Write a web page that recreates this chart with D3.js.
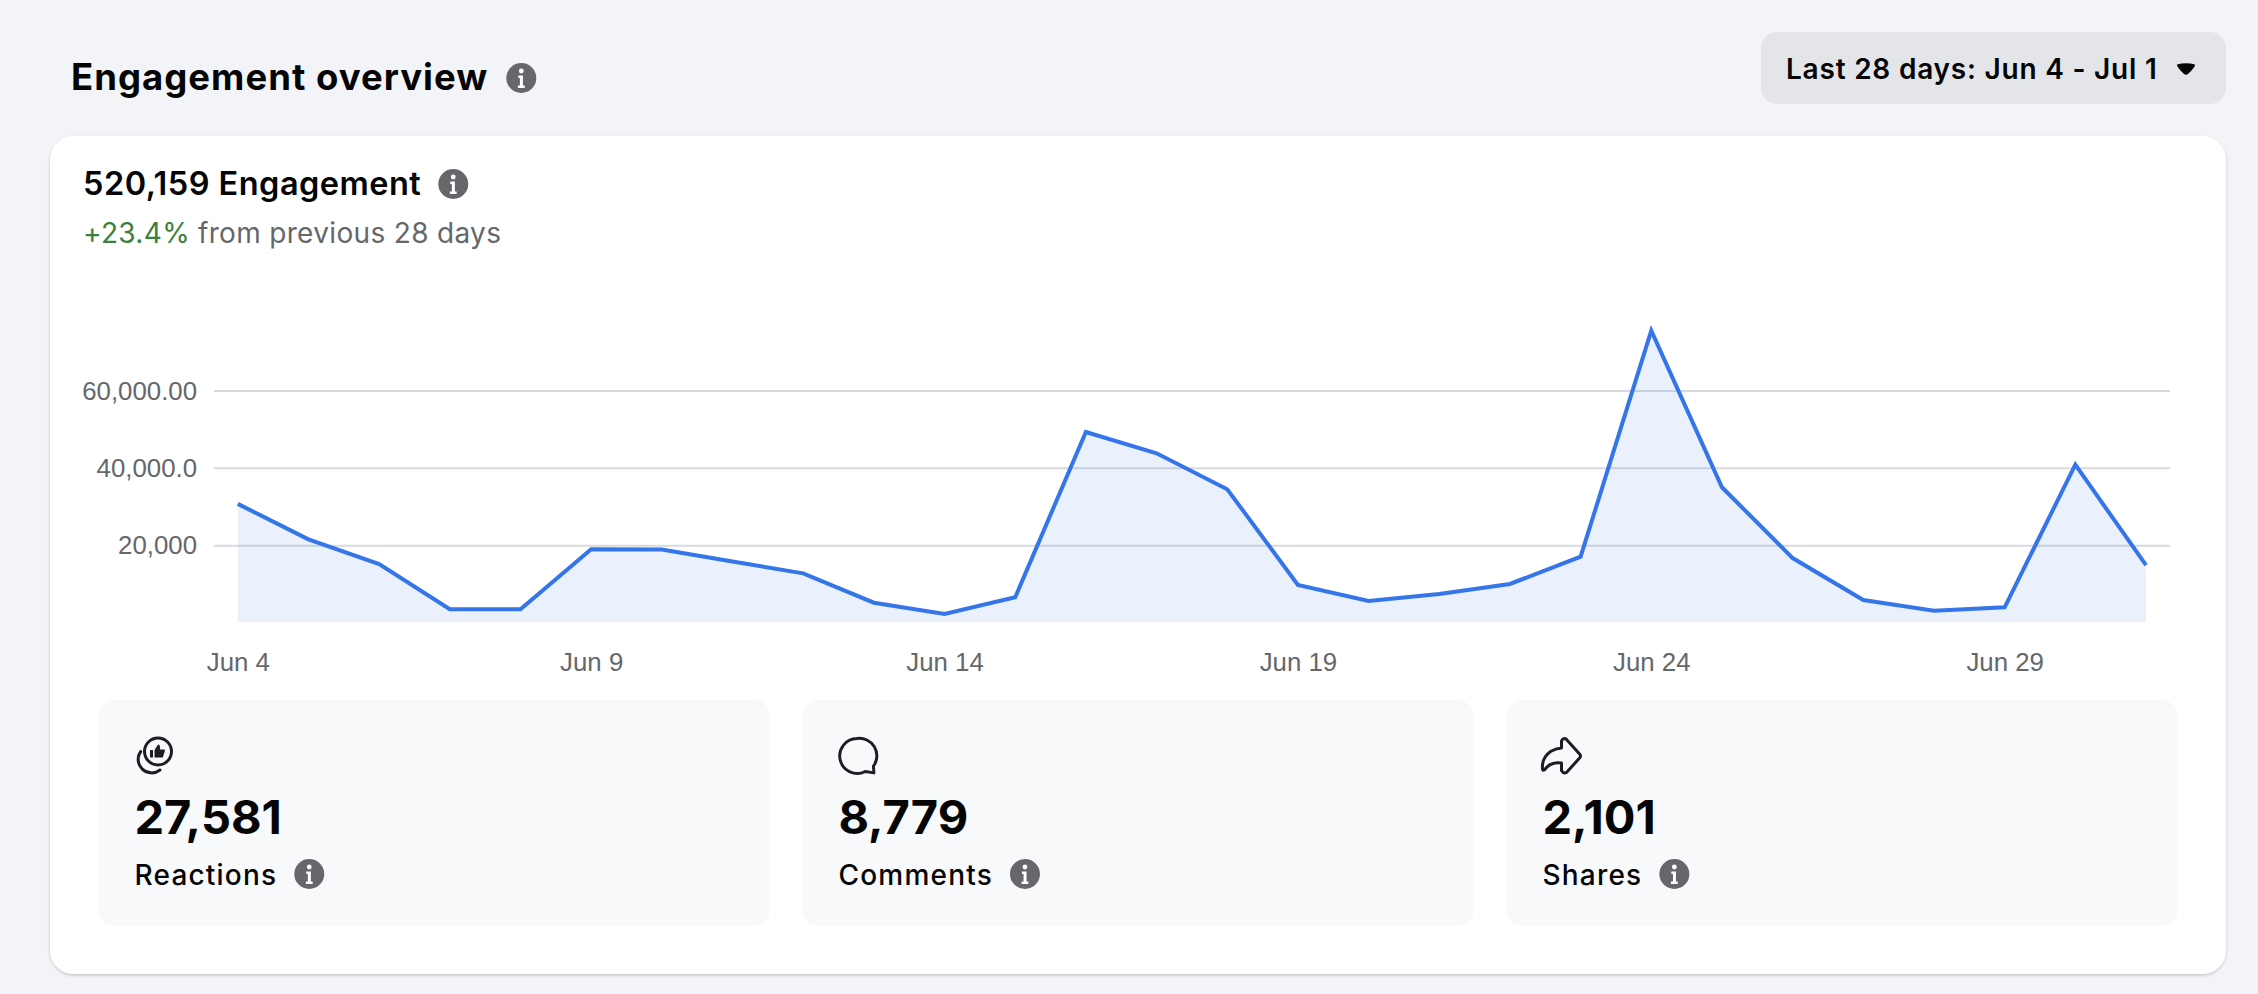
<!DOCTYPE html>
<html>
<head>
<meta charset="utf-8">
<title>Engagement overview</title>
<script src="https://cdn.jsdelivr.net/npm/d3@7"></script>
<style>
  html, body { margin: 0; padding: 0; background: #f3f4f8; }
  svg { display: block; font-family: Inter, "Noto Sans", sans-serif; }
  .axisText text { font-family: "Liberation Sans", Arial, sans-serif; font-size: 25.8px; fill: #65676b; }
</style>
</head>
<body>
<div id="chart"></div>
<script>
var svgWidth = 2258;
var svgHeight = 994;

// Data
var days = ["Jun 4", "Jun 5", "Jun 6", "Jun 7", "Jun 8", "Jun 9", "Jun 10", "Jun 11", "Jun 12", "Jun 13",
  "Jun 14", "Jun 15", "Jun 16", "Jun 17", "Jun 18", "Jun 19", "Jun 20", "Jun 21", "Jun 22", "Jun 23",
  "Jun 24", "Jun 25", "Jun 26", "Jun 27", "Jun 28", "Jun 29", "Jun 30", "Jul 1"];
var engagement = [30800, 21650, 15250, 3550, 3550, 19050, 19000, 15900, 12850, 5250,
  2350, 6650, 49400, 43900, 34600, 9850, 5700, 7500, 10100, 17150,
  75600, 35100, 16800, 5950, 3200, 4050, 40950, 14950];
var xTickLabels = ["Jun 4", "Jun 9", "Jun 14", "Jun 19", "Jun 24", "Jun 29"];
var yTickValues = [20000, 40000, 60000];
var yTickLabels = ["20,000", "40,000.0", "60,000.00"];
var statNames = ["Reactions", "Comments", "Shares"];
var statValues = ["27,581", "8,779", "2,101"];

var svg = d3.select("#chart")
  .append("svg")
  .attr("width", svgWidth)
  .attr("height", svgHeight);

var defs = svg.append("defs");
var shadow = defs.append("filter").attr("id", "cardShadow")
  .attr("x", "-2%").attr("y", "-2%").attr("width", "104%").attr("height", "104%");
shadow.append("feDropShadow")
  .attr("dx", 0).attr("dy", 1.5).attr("stdDeviation", 1.5)
  .attr("flood-color", "#000").attr("flood-opacity", 0.2);

// grey circle with the white i
function infoIcon(x, y) {
  var g = svg.append("g").attr("transform", `translate(${x}, ${y})`);
  g.append("circle").attr("r", 15).attr("fill", "#65676b");
  g.append("circle").attr("cy", -7).attr("r", 2.4).attr("fill", "#fff");
  g.append("path").attr("d", "M-3 -2.5H1.6V7.5H3.4V10H-3.4V7.5H-1.4V0H-3Z").attr("fill", "#fff");
}

// text, with the info icon following it
function labelWithInfo(x, y, str, size, weight, spacing, gap) {
  var t = svg.append("text")
    .attr("x", x)
    .attr("y", y)
    .attr("font-size", size)
    .attr("font-weight", weight)
    .attr("letter-spacing", spacing)
    .attr("fill", "#050505")
    .text(str);
  infoIcon(x + t.node().getComputedTextLength() + gap, y - 11);
}

// Page header
var titleText = svg.append("text")
  .attr("x", 71).attr("y", 90)
  .attr("font-size", 36.5).attr("font-weight", 700).attr("letter-spacing", 1.02)
  .attr("fill", "#050505")
  .text("Engagement overview");
infoIcon(71 + titleText.node().getComputedTextLength() + 33, 78);

// Date button
svg.append("rect")
  .attr("x", 1761).attr("y", 32)
  .attr("width", 465).attr("height", 72)
  .attr("rx", 16)
  .attr("fill", "#e4e5e9");
svg.append("text")
  .attr("x", 1786).attr("y", 79)
  .attr("font-size", 28).attr("font-weight", 600).attr("letter-spacing", 0.78)
  .attr("fill", "#050505")
  .text("Last 28 days: Jun 4 - Jul 1");
svg.append("path")
  .attr("d", "M2177 64.500Q2186 62 2195 64.500Q2195.500 67 2188 74Q2186 75.500 2184 74Q2176.500 67 2177 64.500Z")
  .attr("fill", "#050505");

// Main card
svg.append("rect")
  .attr("x", 50).attr("y", 136)
  .attr("width", 2176).attr("height", 838)
  .attr("rx", 24)
  .attr("fill", "#fff")
  .attr("filter", "url(#cardShadow)");

labelWithInfo(83, 195, "520,159 Engagement", 32.5, 600, 0.47, 32);

var changeLine = svg.append("text")
  .attr("x", 83).attr("y", 243)
  .attr("font-size", 28).attr("letter-spacing", 0.33);
changeLine.append("tspan").attr("fill", "#3c8039").text("+23.4%");
changeLine.append("tspan").attr("fill", "#65676b").attr("dx", 8).text("from previous 28 days");

// Scales
var xScale = d3.scalePoint()
  .domain(days)
  .range([237.8, 2146]);

var yScale = d3.scaleLinear()
  .domain([0, 60000])
  .range([623, 391]);

var areaBottom = 622;

// Axes
var bottomAxis = d3.axisBottom(xScale)
  .tickValues(xTickLabels)
  .tickSize(0)
  .tickPadding(31);

var leftAxis = d3.axisLeft(yScale)
  .tickValues(yTickValues)
  .tickFormat((d, i) => yTickLabels[i])
  .tickSize(0)
  .tickPadding(17);

var xAxisGroup = svg.append("g")
  .attr("class", "axisText")
  .attr("transform", `translate(0, ${areaBottom})`)
  .call(bottomAxis);
xAxisGroup.select(".domain").remove();

var yAxisGroup = svg.append("g")
  .attr("class", "axisText")
  .attr("transform", "translate(214, 0)")
  .call(leftAxis);
yAxisGroup.select(".domain").remove();

// Gridlines
svg.append("g")
  .selectAll("line")
  .data(yTickValues)
  .enter()
  .append("line")
  .attr("x1", 214)
  .attr("x2", 2170)
  .attr("y1", d => yScale(d))
  .attr("y2", d => yScale(d))
  .attr("stroke", "#d8dade")
  .attr("stroke-width", 2);

// Area and line
var area = d3.area()
  .x((d, i) => xScale(days[i]))
  .y0(areaBottom)
  .y1(d => yScale(d));

var line = d3.line()
  .x((d, i) => xScale(days[i]))
  .y(d => yScale(d));

svg.append("path")
  .datum(engagement)
  .attr("d", area)
  .attr("fill", "#3578f0")
  .attr("fill-opacity", 0.1);

svg.append("path")
  .datum(engagement)
  .attr("d", line)
  .attr("fill", "none")
  .attr("stroke", "#3575ea")
  .attr("stroke-width", 4)
  .attr("stroke-linejoin", "miter");

// Stat cards
var statScale = d3.scalePoint()
  .domain(statNames)
  .range([98, 1506]);

statNames.forEach(function(name, i) {
  var left = statScale(name);
  svg.append("rect")
    .attr("x", left).attr("y", 700)
    .attr("width", 672).attr("height", 225.500)
    .attr("rx", 16)
    .attr("fill", "#f8f9fb");

  svg.append("text")
    .attr("x", left + 36.500).attr("y", 834)
    .attr("font-size", 47).attr("font-weight", 700)
    .attr("fill", "#050505")
    .text(statValues[i]);

  labelWithInfo(left + 36.500, 885, name, 28, 500, 1.2, 32);
});

function statIcon(i, dx) {
  return svg.append("g")
    .attr("transform", `translate(${statScale(statNames[i]) + 37 + dx}, 737)`)
    .attr("fill", "none")
    .attr("stroke", "#1c1e21")
    .attr("stroke-width", 3)
    .attr("stroke-linecap", "round")
    .attr("stroke-linejoin", "round");
}

// Reactions icon
var reactIcon = statIcon(0, 0);
reactIcon.append("circle").attr("cx", 23).attr("cy", 14.500).attr("r", 13.500);
reactIcon.append("path").attr("d", "M5.700 14.500A13.500 13.500 0 0 0 25 33");
reactIcon.append("path")
  .attr("stroke", "none").attr("fill", "#1c1e21")
  .attr("d", "M15 13H18V20.500H15ZM19.500 13L23 7.500Q25.500 7.500 25 12.500H29.500Q30.500 13.500 29.500 15L28 20Q27.500 20.500 26.500 20.500H19.500Z");

// Comments icon
var commentIcon = statIcon(1, 0);
commentIcon.append("path")
  .attr("d", "M18.500 0.500A18 18 0 1 0 27 34.500L36 36L35.500 29A18 18 0 0 0 18.500 0.500Z")
  .attr("transform", "translate(0, 1) scale(0.97)");

// Shares icon
var shareIcon = statIcon(2, -1.500);
shareIcon.append("path")
  .attr("d", "M1 32Q0 21 9 14.500Q14 11.500 20 11L20 4Q22 0 25 2.500L38.500 17.500Q39.500 19 38.500 20.500L25 35.500Q22 37 20 33.500V26Q9 24 3 33Q1 34 1 32Z");
</script>
</body>
</html>
